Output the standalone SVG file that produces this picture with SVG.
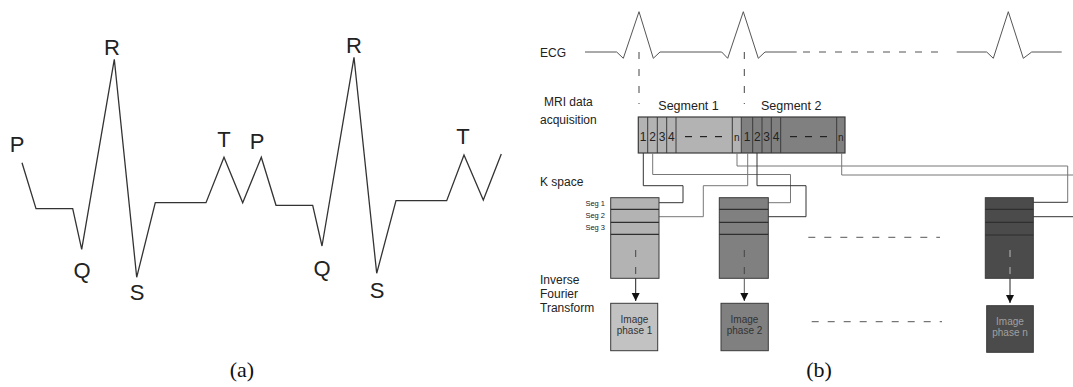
<svg xmlns="http://www.w3.org/2000/svg" width="1073" height="387" viewBox="0 0 1073 387">
<style>
.lbl{font-family:"Liberation Sans",Arial,sans-serif;font-size:22px;fill:#222;text-anchor:middle}
.t{font-family:"Liberation Sans",Arial,sans-serif;font-size:12px;fill:#222}
.seg{font-family:"Liberation Sans",Arial,sans-serif;font-size:12.5px;fill:#222}
.dig{font-family:"Liberation Sans",Arial,sans-serif;font-size:12px;fill:#222;text-anchor:middle}
.sl{font-family:"Liberation Sans",Arial,sans-serif;font-size:7.5px;fill:#222;text-anchor:end}
.im{font-family:"Liberation Sans",Arial,sans-serif;font-size:10px;fill:#333;text-anchor:middle}
.cap{font-family:"Liberation Serif","Times New Roman",serif;font-size:22px;fill:#111;text-anchor:middle}
.wave{fill:none;stroke:#333;stroke-width:1.3;stroke-linejoin:miter}
.ecg{fill:none;stroke:#555;stroke-width:1}
.dash{fill:none;stroke:#555;stroke-width:1;stroke-dasharray:7 9}
.vd{fill:none;stroke:#444;stroke-width:1;stroke-dasharray:7 10}
.box{stroke:#3a3a3a;stroke-width:1}
.c1{fill:#b3b3b3}.c2{fill:#808080}.c3{fill:#4b4b4b}.i1{fill:#c2c2c2}
.row{stroke:#2f2f2f;stroke-width:1.2}
.cd{fill:none;stroke:#333;stroke-width:1}
.cg{fill:none;stroke:#777;stroke-width:1}
</style>
<defs>
<marker id="tri" viewBox="0 0 10 10" refX="10" refY="5" markerWidth="8" markerHeight="10" markerUnits="userSpaceOnUse" orient="auto">
<path d="M0,0 L10,5 L0,10 Z" fill="#111"/>
</marker>
<marker id="open" viewBox="0 0 10 10" refX="1" refY="5" markerWidth="6" markerHeight="8" markerUnits="userSpaceOnUse" orient="auto-start-reverse">
<path d="M9,0 L1,5 L9,10" fill="none" stroke="#555" stroke-width="1.4"/>
</marker>
</defs>

<g id="panel-a">
<polyline class="wave" points="22,162.7 36,208.7 72.7,208.7 81.7,249.3 114.3,59.3 136.7,277.3 155.3,202.7 206,202.7 224,157.3 242.7,202.7 261.3,157.3 276,205.3 312.7,205.3 322,246 354,57.3 376.7,273.3 396,200.7 446.7,200.7 464,155 483.3,200 501.3,154"/>
<text class="lbl" x="17" y="152">P</text>
<text class="lbl" x="112" y="55">R</text>
<text class="lbl" x="82" y="278">Q</text>
<text class="lbl" x="137" y="300">S</text>
<text class="lbl" x="224" y="147">T</text>
<text class="lbl" x="257" y="149">P</text>
<text class="lbl" x="322" y="276">Q</text>
<text class="lbl" x="354" y="53">R</text>
<text class="lbl" x="377" y="298">S</text>
<text class="lbl" x="463" y="144">T</text>
<text class="cap" x="242" y="377">(a)</text>
</g>

<g id="labels-b">
<text class="t" x="540" y="57">ECG</text>
<text class="t" x="544" y="106">MRI data</text>
<text class="t" x="540" y="124">acquisition</text>
<text class="t" x="540" y="186">K space</text>
<text class="t" x="540" y="284">Inverse</text>
<text class="t" x="540" y="298">Fourier</text>
<text class="t" x="540" y="312">Transform</text>
<text class="cap" x="819" y="377">(b)</text>
</g>

<g id="ecg-b">
<polyline class="ecg" points="585,52 616.7,52 623.3,58.3 639,11.7 653.3,58.3 660,52 721.7,52 727.7,58.3 743.3,11.7 758.3,58.3 765,52 796.7,52"/>
<line class="dash" x1="803" y1="52" x2="945" y2="52"/>
<polyline class="ecg" points="956.7,52 986.7,52 993.3,58.3 1008.3,11.7 1023.3,58.3 1031.7,52 1061.7,52"/>
<line class="vd" x1="639" y1="52" x2="639" y2="104"/>
<line class="vd" x1="744.3" y1="52" x2="744.3" y2="104"/>
<text class="seg" x="658.3" y="110">Segment 1</text>
<text class="seg" x="761" y="110">Segment 2</text>
</g>

<g id="strip">
<rect class="c1" x="638.3" y="117" width="103" height="36"/>
<rect class="c2" x="741.3" y="117" width="103.7" height="36"/>
<rect x="638.3" y="117" width="206.7" height="36" fill="none" stroke="#3a3a3a" stroke-width="1.2"/>
<g stroke="#3a3a3a" stroke-width="1">
<line x1="647.7" y1="117" x2="647.7" y2="153"/>
<line x1="657.3" y1="117" x2="657.3" y2="153"/>
<line x1="666.7" y1="117" x2="666.7" y2="153"/>
<line x1="676" y1="117" x2="676" y2="153"/>
<line x1="732.3" y1="117" x2="732.3" y2="153"/>
<line x1="741.3" y1="117" x2="741.3" y2="153"/>
<line x1="752.7" y1="117" x2="752.7" y2="153"/>
<line x1="762" y1="117" x2="762" y2="153"/>
<line x1="771.3" y1="117" x2="771.3" y2="153"/>
<line x1="780.7" y1="117" x2="780.7" y2="153"/>
<line x1="836.7" y1="117" x2="836.7" y2="153"/>
</g>
<g fill="#222">
<rect x="685" y="136" width="7" height="1.2"/><rect x="700" y="136" width="7" height="1.2"/><rect x="715" y="136" width="7" height="1.2"/>
<rect x="790" y="136" width="7" height="1.2"/><rect x="805" y="136" width="7" height="1.2"/><rect x="820" y="136" width="7" height="1.2"/>
</g>
<text class="dig" x="643" y="141">1</text>
<text class="dig" x="652.5" y="141">2</text>
<text class="dig" x="662" y="141">3</text>
<text class="dig" x="671.3" y="141">4</text>
<text class="dig" x="736.8" y="141" style="font-size:10px">n</text>
<text class="dig" x="747" y="141">1</text>
<text class="dig" x="757.3" y="141">2</text>
<text class="dig" x="766.7" y="141">3</text>
<text class="dig" x="776" y="141">4</text>
<text class="dig" x="840.8" y="141" style="font-size:10px">n</text>
</g>

<g id="connectors">
<polyline class="cd" points="643.3,153 643.3,185.7 683,185.7 683,202.7 651.5,202.7" marker-end="url(#open)"/>
<polyline class="cg" points="652.7,153 652.7,174.5 790.5,174.5 790.5,202.7 763,202.7" marker-end="url(#open)"/>
<polyline class="cg" points="737,153 737,166 1067.7,166 1067.7,202.3"/>
<polyline class="cd" points="1067.7,202.3 1028.5,202.3" marker-end="url(#open)"/>
<polyline class="cg" points="747.7,153 747.7,185.7 703.3,185.7 703.3,216.7 651.5,216.7" marker-end="url(#open)"/>
<polyline class="cd" points="757,153 757,185.7 806,185.7 806,216.7 763,216.7" marker-end="url(#open)"/>
<polyline class="cg" points="841.7,153 841.7,175 1073,175"/>
<polyline class="cd" points="1073,216.7 1028.5,216.7" marker-end="url(#open)"/>
<line class="dash" x1="808.3" y1="237.3" x2="940" y2="237.3"/>
<line class="dash" x1="811.7" y1="321.7" x2="942" y2="321.7"/>
</g>

<g id="kspace-1">
<rect class="box c1" x="610.7" y="197.7" width="48.3" height="80.6"/>
<line class="row" x1="610.7" y1="209.3" x2="659" y2="209.3"/>
<line class="row" x1="610.7" y1="222.3" x2="659" y2="222.3"/>
<line class="row" x1="610.7" y1="234.3" x2="659" y2="234.3"/>
<text class="sl" x="605" y="205.5">Seg 1</text>
<text class="sl" x="605" y="217.5">Seg 2</text>
<text class="sl" x="605" y="230">Seg 3</text>
<line class="vd" x1="635.7" y1="250" x2="635.7" y2="274"/>
<line x1="635.7" y1="278.3" x2="635.7" y2="301" stroke="#222" marker-end="url(#tri)"/>
</g>
<g id="kspace-2">
<rect class="box c2" x="719.3" y="197.7" width="49" height="80.6"/>
<line class="row" x1="719.3" y1="209.3" x2="768.3" y2="209.3"/>
<line class="row" x1="719.3" y1="222.3" x2="768.3" y2="222.3"/>
<line class="row" x1="719.3" y1="234.3" x2="768.3" y2="234.3"/>
<line class="vd" x1="744.3" y1="250" x2="744.3" y2="274"/>
<line x1="744.3" y1="278.3" x2="744.3" y2="301" stroke="#555" marker-end="url(#tri)"/>
</g>
<g id="kspace-n">
<rect class="box c3" x="985.3" y="197.7" width="48" height="80.6"/>
<line class="row" x1="985.3" y1="209.3" x2="1033.3" y2="209.3"/>
<line class="row" x1="985.3" y1="222.3" x2="1033.3" y2="222.3"/>
<line class="row" x1="985.3" y1="235" x2="1033.3" y2="235"/>
<line class="vd" x1="1010" y1="250" x2="1010" y2="274" style="stroke:#bbb"/>
<line x1="1010" y1="278.3" x2="1010" y2="303" stroke="#222" marker-end="url(#tri)"/>
</g>

<g id="image-1">
<rect class="box i1" x="610.7" y="303.3" width="47" height="47.4"/>
<text class="im" x="634.5" y="322.5">Image</text>
<text class="im" x="634.5" y="334">phase 1</text>
</g>
<g id="image-2">
<rect class="box c2" x="721" y="303.3" width="47.3" height="47.4"/>
<text class="im" x="744.5" y="322.5">Image</text>
<text class="im" x="744.5" y="334">phase 2</text>
</g>
<g id="image-n">
<rect class="box c3" x="986.7" y="305.7" width="46.6" height="46.6"/>
<text class="im" x="1010" y="324.5" style="fill:#a0a0a0">Image</text>
<text class="im" x="1010" y="336" style="fill:#a0a0a0">phase n</text>
</g>
</svg>
